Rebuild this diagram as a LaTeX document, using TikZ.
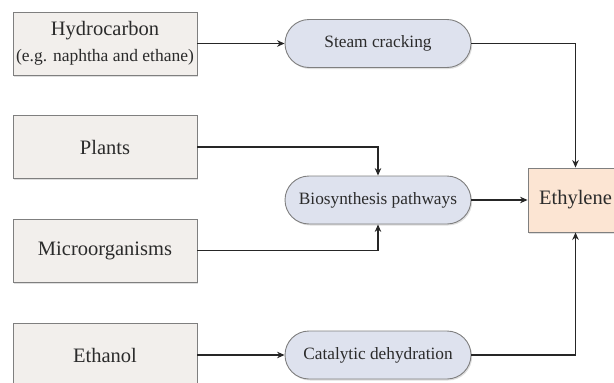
\documentclass[tikz,border=0pt]{standalone}
\usepackage{fontspec}
\setmainfont{Liberation Serif}
\usetikzlibrary{arrows.meta, shadows}

\definecolor{srcfill}{HTML}{F2EFEC}
\definecolor{procfill}{HTML}{DEE2EE}
\definecolor{prodfill}{HTML}{FCE5D3}
\definecolor{edgegray}{HTML}{7F7F7F}
\definecolor{txtgray}{HTML}{2B2B2B}

\tikzset{
  softshadow/.style={drop shadow={shadow xshift=1.2pt, shadow yshift=-1.5pt, opacity=0.25, fill=black!50}},
  source/.style={draw=edgegray, fill=srcfill, line width=0.9pt, minimum width=184pt, minimum height=63pt,
    inner sep=0pt, align=center, text=txtgray, font=\fontsize{20.5}{26}\selectfont, softshadow},
  process/.style={draw=edgegray, fill=procfill, line width=0.9pt, rounded corners=24pt, minimum width=186pt,
    minimum height=48pt, inner sep=0pt, text=txtgray, font=\fontsize{17.3}{20}\selectfont, softshadow},
  product/.style={draw=edgegray, fill=prodfill, line width=0.9pt, minimum width=95pt, minimum height=64pt,
    inner sep=0pt, text=txtgray, font=\fontsize{20.5}{24}\selectfont, softshadow},
  flow/.style={-{Stealth[length=7.5pt, width=6.5pt]}, line width=1.2pt, draw=black!85}
}

\begin{document}
\begin{tikzpicture}[x=1pt, y=-1pt]
      % Keep the frame of the reference
      \clip (0,0) rectangle (614,383);
      \useasboundingbox (0,0) rectangle (614,383);

      % Feedstocks
      \node[source] (hc) at (105,43.5) {Hydrocarbon\\{\fontsize{17.5}{20}\selectfont (e.g. naphtha and ethane)}};
      \node[source] (pl) at (105,147) {Plants};
      \node[source] (mo) at (105,250.5) {Microorganisms};
      \node[source] (et) at (105,355) {Ethanol};

      % Processes
      \node[process] (sc) at (378,43.5) {Steam cracking};
      \node[process] (bio) at (378,200) {Biosynthesis pathways};
      \node[process] (cd) at (378,355) {Catalytic dehydration};

      % Product
      \node[product] (eth) at (575.5,200) {Ethylene};

      % Connectors
      \draw[flow] (hc) -- (sc);
      \draw[flow] (pl) -| (bio);
      \draw[flow] (mo) -| (bio);
      \draw[flow] (et) -- (cd);
      \draw[flow] (sc) -| (eth);
      \draw[flow] (bio) -- (eth);
      \draw[flow] (cd) -| (eth);
\end{tikzpicture}
\end{document}
